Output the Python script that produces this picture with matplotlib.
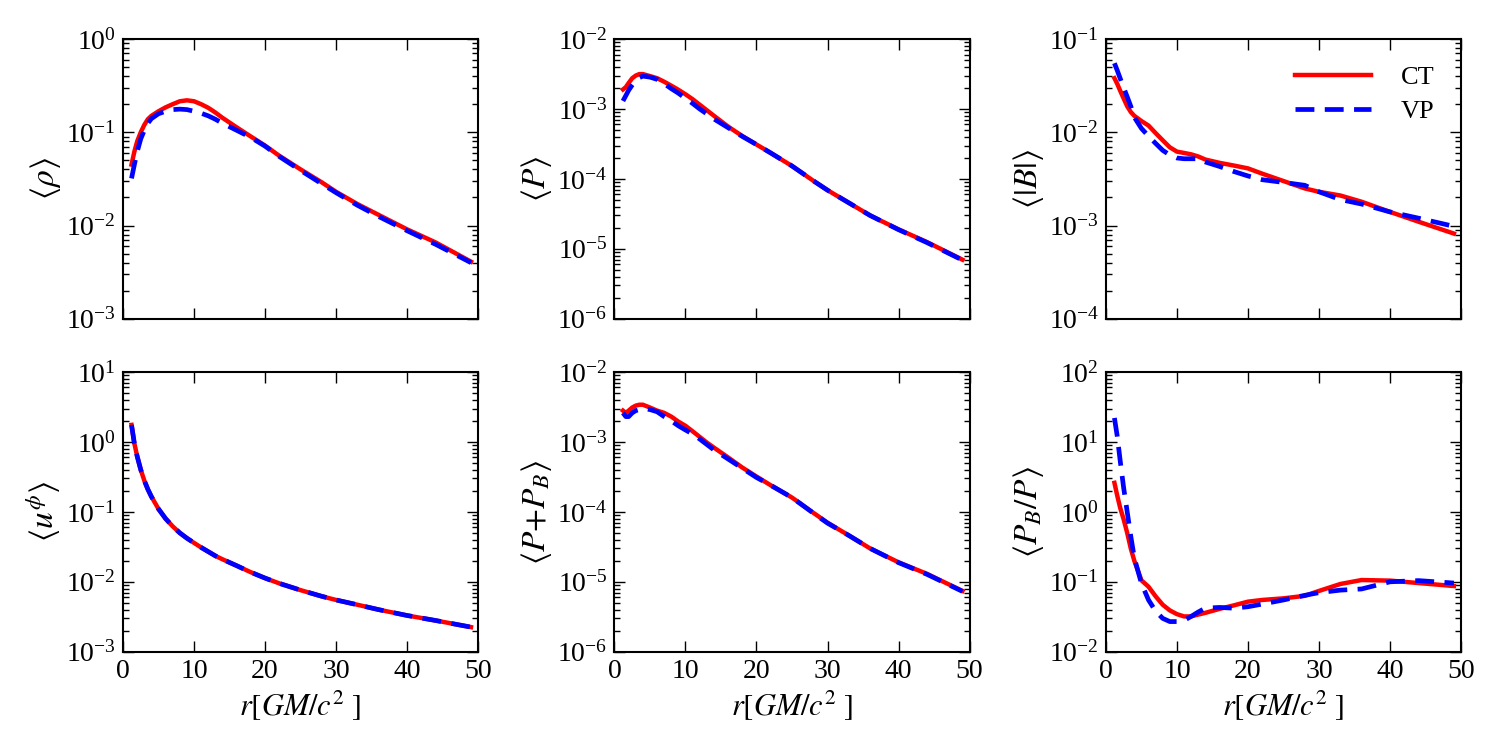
import numpy as np
import matplotlib
matplotlib.use("Agg")
import matplotlib.pyplot as plt
from matplotlib.ticker import LogLocator, NullFormatter, NullLocator

plt.rcParams['font.family'] = ['Liberation Serif', 'DejaVu Serif']
plt.rcParams['mathtext.fontset'] = 'stix'

# radius grid (GM/c^2)
r = [1.2, 1.6, 2, 2.5, 3, 3.5, 4, 5, 6, 7, 8, 9, 10, 11, 12, 13, 14,
     16, 18, 20, 22, 25, 28, 30, 33, 36, 40, 44, 49]

rho_ct = [0.045, 0.062, 0.08, 0.10, 0.12, 0.138, 0.15, 0.168, 0.185, 0.2, 0.215, 0.22,
          0.215, 0.20, 0.183, 0.163, 0.143, 0.113, 0.09, 0.072, 0.056, 0.04, 0.029,
          0.023, 0.017, 0.013, 0.0091, 0.0066, 0.0041]
rho_vp = [0.032, 0.045, 0.062, 0.085, 0.105, 0.125, 0.14, 0.158, 0.168, 0.175, 0.177, 0.175,
          0.168, 0.16, 0.15, 0.138, 0.125, 0.105, 0.088, 0.071, 0.055, 0.039, 0.028,
          0.0225, 0.0165, 0.0125, 0.0088, 0.0063, 0.004]

p_ct = [1.9e-3, 2.05e-3, 2.35e-3, 2.75e-3, 3.0e-3, 3.15e-3, 3.15e-3, 2.95e-3, 2.75e-3,
        2.45e-3, 2.15e-3, 1.88e-3, 1.62e-3, 1.38e-3, 1.15e-3, 9.6e-4, 8.0e-4, 5.6e-4,
        4.1e-4, 3.1e-4, 2.35e-4, 1.53e-4, 9.4e-5, 6.9e-5, 4.55e-5, 3.0e-5, 1.9e-5,
        1.25e-5, 7.0e-6]
p_vp = [1.3e-3, 1.55e-3, 1.85e-3, 2.2e-3, 2.55e-3, 2.8e-3, 2.95e-3, 2.85e-3, 2.65e-3,
        2.3e-3, 1.95e-3, 1.68e-3, 1.42e-3, 1.2e-3, 1.0e-3, 8.5e-4, 7.2e-4, 5.4e-4,
        4.05e-4, 3.1e-4, 2.35e-4, 1.53e-4, 9.4e-5, 6.9e-5, 4.55e-5, 3.0e-5, 1.88e-5,
        1.23e-5, 6.9e-6]

b_ct = [0.038, 0.033, 0.028, 0.023, 0.019, 0.0165, 0.015, 0.0132, 0.0118, 0.0098, 0.0082,
        0.0069, 0.0062, 0.006, 0.0058, 0.0055, 0.0051, 0.0047, 0.0044, 0.0041, 0.0036,
        0.003, 0.0025, 0.0023, 0.0021, 0.0018, 0.0014, 0.0011, 0.00082]
b_vp = [0.055, 0.046, 0.038, 0.03, 0.024, 0.019, 0.0145, 0.011, 0.0091, 0.0076, 0.0064,
        0.0057, 0.0053, 0.0052, 0.0052, 0.0052, 0.0048, 0.0043, 0.0038, 0.0034, 0.0031,
        0.0029, 0.0027, 0.0023, 0.0019, 0.0017, 0.0014, 0.0012, 0.00098]

uphi_ct = [1.75, 0.95, 0.62, 0.40, 0.28, 0.21, 0.165, 0.11, 0.08, 0.062, 0.05, 0.042,
           0.036, 0.031, 0.027, 0.0235, 0.021, 0.017, 0.0137, 0.0113, 0.0095, 0.0076,
           0.0062, 0.0055, 0.0047, 0.0040, 0.0033, 0.0028, 0.00225]
uphi_vp = [1.75, 0.95, 0.62, 0.40, 0.28, 0.21, 0.165, 0.11, 0.08, 0.062, 0.05, 0.042,
           0.036, 0.031, 0.027, 0.0235, 0.021, 0.017, 0.0137, 0.0113, 0.0095, 0.0076,
           0.0062, 0.0055, 0.0047, 0.0040, 0.0033, 0.0028, 0.00225]

ptot_ct = [0.0028, 0.0026, 0.0028, 0.0031, 0.0033, 0.0034, 0.0034, 0.0031, 0.0028, 0.0026,
           0.0023, 0.00195, 0.0017, 0.00142, 0.00118, 0.00098, 0.00083, 0.0006, 0.00043,
           0.00032, 0.00024, 0.00016, 9.7e-5, 7.0e-5, 4.6e-5, 3.0e-5, 1.9e-5, 1.3e-5,
           7.4e-6]
ptot_vp = [0.0026, 0.0023, 0.0023, 0.0026, 0.0028, 0.0029, 0.003, 0.0029, 0.0027, 0.0023,
           0.002, 0.0017, 0.00148, 0.0013, 0.0011, 0.00092, 0.00077, 0.00057, 0.00042,
           0.00031, 0.00024, 0.00016, 9.6e-5, 6.9e-5, 4.6e-5, 3.0e-5, 1.88e-5, 1.28e-5,
           7.3e-6]

beta_ct = [2.6, 1.7, 1.15, 0.78, 0.5, 0.3, 0.2, 0.105, 0.085, 0.062, 0.047, 0.039, 0.0345,
           0.032, 0.032, 0.034, 0.036, 0.041, 0.046, 0.052, 0.055, 0.058, 0.063, 0.074,
           0.093, 0.106, 0.104, 0.096, 0.087]
beta_vp = [22, 12, 5.5, 2.2, 1.0, 0.45, 0.22, 0.095, 0.055, 0.038, 0.03, 0.027, 0.027,
           0.028, 0.032, 0.037, 0.042, 0.043, 0.042, 0.044, 0.048, 0.055, 0.064, 0.07,
           0.076, 0.079, 0.1, 0.104, 0.096]

panels = [
    (rho_ct, rho_vp, r'$\langle \rho \rangle$', (1e-3, 1e0)),
    (p_ct, p_vp, r'$\langle P \rangle$', (1e-6, 1e-2)),
    (b_ct, b_vp, r'$\langle |B| \rangle$', (1e-4, 1e-1)),
    (uphi_ct, uphi_vp, r'$\langle u^{\phi} \rangle$', (1e-3, 1e1)),
    (ptot_ct, ptot_vp, r'$\langle P{+}P_B \rangle$', (1e-6, 1e-2)),
    (beta_ct, beta_vp, r'$\langle P_B/P \rangle$', (1e-2, 1e2)),
]

fig, axes = plt.subplots(2, 3, figsize=(15, 7.5), dpi=100)
fig.subplots_adjust(left=0.082, right=0.974, bottom=0.131, top=0.948,
                    wspace=0.384, hspace=0.19)

for i, (ax, (ct, vp, lab, ylim)) in enumerate(zip(axes.flat, panels)):
    ax.plot(r, ct, color='red', lw=3.2, label='CT')
    ax.plot(r, vp, color='blue', lw=3.4, ls=(0, (4, 2.2)), label='VP')
    ax.set_yscale('log')
    ax.set_ylim(*ylim)
    ax.set_xlim(0, 50)
    ax.set_xticks([0, 10, 20, 30, 40, 50])
    ax.xaxis.set_minor_locator(NullLocator())
    ax.yaxis.set_major_locator(LogLocator(base=10, numticks=10))
    ax.yaxis.set_minor_locator(LogLocator(base=10, subs=np.arange(2, 10), numticks=10))
    ax.yaxis.set_minor_formatter(NullFormatter())
    ax.set_ylabel(lab, fontsize=24, labelpad=2)
    ax.tick_params(which='both', direction='in', top=True, right=True, labelsize=20, width=1)
    ax.tick_params(which='major', length=8, pad=5)
    ax.tick_params(which='minor', length=4)
    for s in ax.spines.values():
        s.set_linewidth(1.5)
    if i < 3:
        ax.tick_params(labelbottom=False)
    else:
        ax.set_xlabel(r'$r[GM/c^2\ ]$', fontsize=22)

axes[0, 2].legend(loc='upper right', frameon=False, fontsize=19, handlelength=2.85,
                  handletextpad=1.15, labelspacing=0.4, borderaxespad=0.6)

fig.savefig('out.png', dpi=100)
